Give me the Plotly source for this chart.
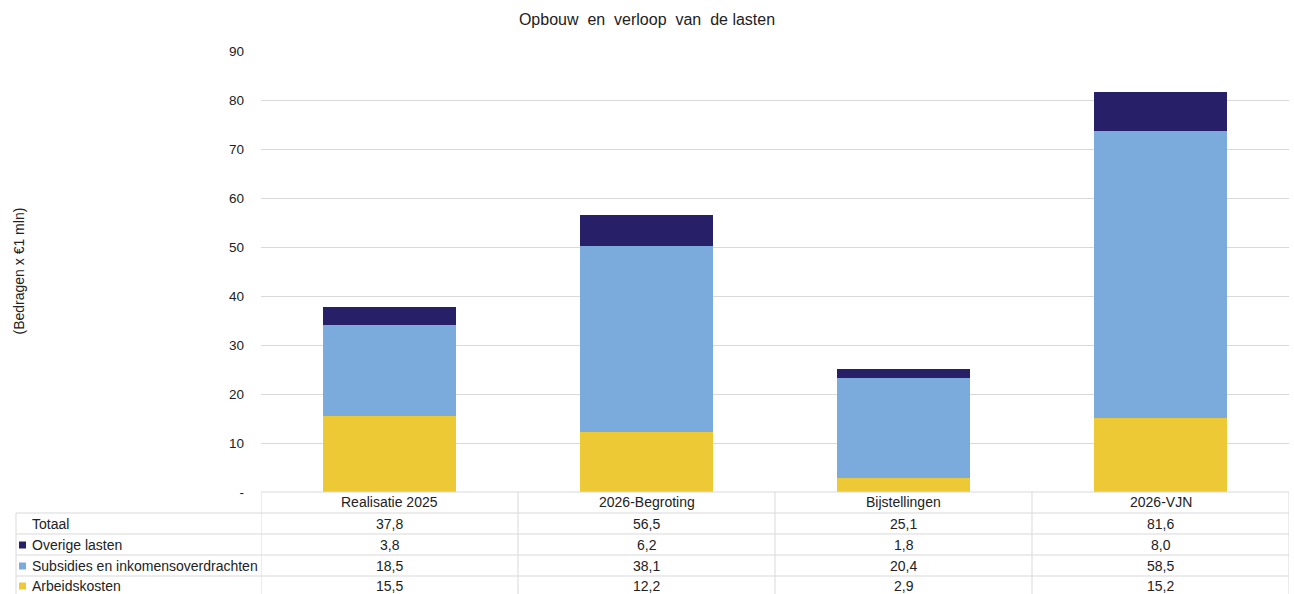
import plotly.graph_objects as go

categories = ["Realisatie 2025", "2026-Begroting", "Bijstellingen", "2026-VJN"]
arbeidskosten = [15.5, 12.2, 2.9, 15.2]
subsidies = [18.5, 38.1, 20.4, 58.5]
overige = [3.8, 6.2, 1.8, 8.0]
totaal = [37.8, 56.5, 25.1, 81.6]
tick_vals = [0, 10, 20, 30, 40, 50, 60, 70, 80, 90]
tick_text = ["-", "10", "20", "30", "40", "50", "60", "70", "80", "90"]

series = [
    ("Arbeidskosten", arbeidskosten, "#EDC935"),
    ("Subsidies en inkomensoverdrachten", subsidies, "#7BABDC"),
    ("Overige lasten", overige, "#271F67"),
]

FONT = "Liberation Sans, Arial, sans-serif"
W, H = 1294, 594
L, R, T, B = 261, 1289, 51, 492


def px(x):
    return (x - L) / (R - L)


def py(y):
    return (B - y) / (B - T)


fig = go.Figure()
for name, vals, col in series:
    fig.add_trace(go.Bar(x=list(range(len(categories))), y=vals, name=name,
                         marker=dict(color=col, line=dict(width=0)), width=0.52,
                         hoverinfo="y+name"))

shapes = []
annotations = []
grid = "#D9D9D9"
# table lines
row_y = [492, 513, 534, 555, 576, 597]
for i, yy in enumerate(row_y):
    x0 = L if i == 0 else 16
    shapes.append(dict(type="line", xref="paper", yref="paper", x0=px(x0), x1=px(R),
                       y0=py(yy), y1=py(yy), line=dict(color=grid, width=1), layer="above"))
for j in range(len(categories) + 1):
    xx = j
    shapes.append(dict(type="line", xref="x", yref="paper", x0=xx - 0.5, x1=xx - 0.5,
                       y0=py(492), y1=py(600), line=dict(color=grid, width=1)))
shapes.append(dict(type="line", xref="paper", yref="paper", x0=px(16), x1=px(16),
                   y0=py(513), y1=py(600), line=dict(color=grid, width=1)))

rows = [("Totaal", totaal, None)] + [(n, v, c) for n, v, c in reversed(series)]

def fmt(v):
    return f"{v:.1f}".replace(".", ",")

TF = dict(size=14, color="#222", family=FONT)
# header
for i, cat in enumerate(categories):
    annotations.append(dict(x=i, y=py(502.5), xref="x", yref="paper", text=cat,
                            showarrow=False, font=TF,
                            xanchor="center", yanchor="middle"))
for r, (name, vals, col) in enumerate(rows):
    yc = (row_y[r + 1] + row_y[r + 2]) / 2 + 0.5
    if r == 3:
        yc = 586
    annotations.append(dict(x=px(30), y=py(yc), xref="paper", yref="paper", text=name,
                            showarrow=False, font=TF,
                            xanchor="left", yanchor="middle"))
    if col:
        shapes.append(dict(type="rect", xref="paper", yref="paper", x0=px(19), x1=px(26),
                           y0=py(yc + 3.5), y1=py(yc - 3.5), fillcolor=col, line=dict(width=0)))
    for i, v in enumerate(vals):
        annotations.append(dict(x=i, y=py(yc), xref="x", yref="paper", text=fmt(v),
                                showarrow=False, font=TF,
                                xanchor="center", yanchor="middle"))

# y-axis title
annotations.append(dict(x=px(18), y=0.5, xref="paper", yref="paper",
                        text="(Bedragen x €1 mln)", textangle=-90, showarrow=False,
                        font=dict(size=14, color="#222", family=FONT),
                        xanchor="center", yanchor="middle"))

fig.update_layout(
    width=W, height=H,
    barmode="stack",
    showlegend=False,
    plot_bgcolor="white", paper_bgcolor="white",
    margin=dict(l=L, r=W - R, t=T, b=H - B),
    title=dict(text="Opbouw  en  verloop  van  de lasten", x=0.5, xanchor="center",
               y=1 - 19 / H, yanchor="middle",
               font=dict(size=16, color="#222", family=FONT)),
    xaxis=dict(range=[-0.5, len(categories) - 0.5], showticklabels=False, showgrid=False,
               zeroline=False, showline=False, fixedrange=True),
    yaxis=dict(range=[0, 90], tickvals=tick_vals, ticktext=tick_text,
               showgrid=True, gridcolor=grid, gridwidth=1, zeroline=False, showline=False,
               tickfont=dict(size=13.5, color="#222", family=FONT), ticklabelstandoff=16,
               fixedrange=True),
    shapes=shapes,
    annotations=annotations,
    font=dict(family=FONT),
)

fig.write_html("out.html", config={"displayModeBar": False},
               post_script="document.body.style.margin='0px';document.body.style.overflow='hidden';")
